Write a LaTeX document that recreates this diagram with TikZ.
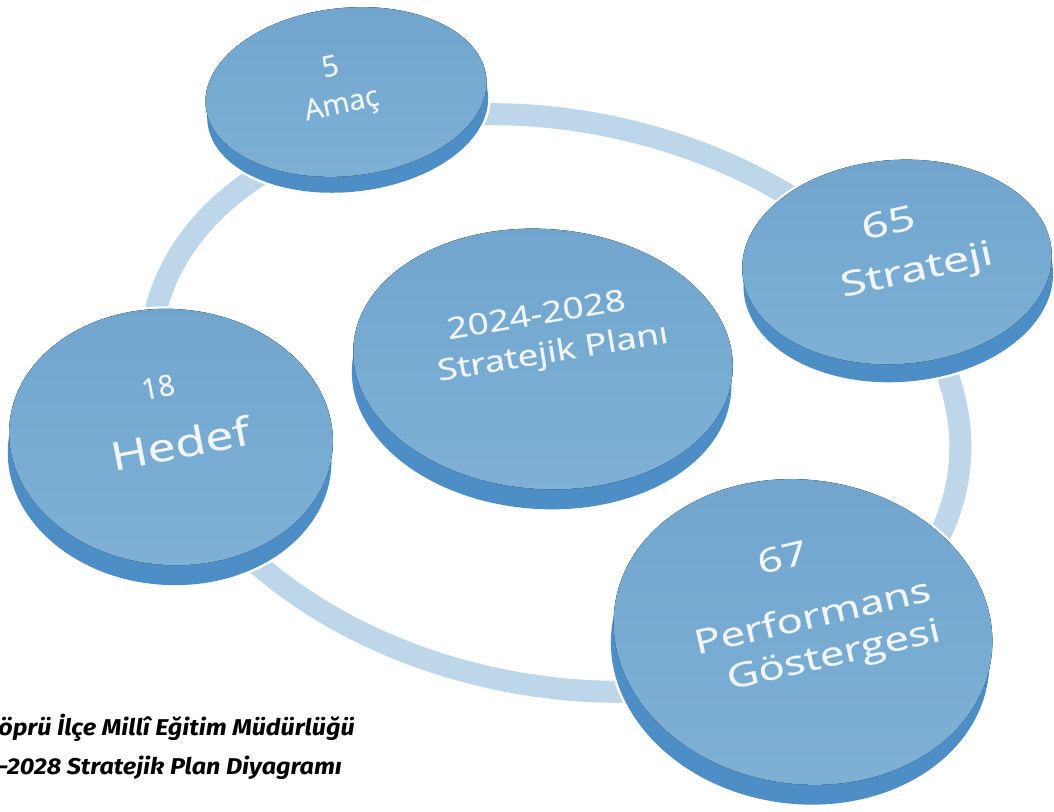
\documentclass[tikz,border=0pt]{standalone}
\usepackage{fontspec}
\setmainfont{Open Sans}[FakeBold=0.5]
\newfontfamily\capfont{Fira Sans}

\definecolor{ringblue}{RGB}{190,214,233}
\definecolor{discface}{RGB}{113,165,206}
\definecolor{discfacelt}{RGB}{127,177,214}
\definecolor{discside}{RGB}{78,142,198}
\definecolor{labeltext}{RGB}{240,246,251}

\tikzset{
  halo/.style={draw=white, line width=0.1cm},
  side/.style={fill=discside},
  face/.style={top color=discface, bottom color=discfacelt},
  lbl/.style={text=labeltext, inner sep=0pt},
  caption/.style={font=\capfont\bfseries\itshape\fontsize{13}{15}\selectfont,
    anchor=base west, inner sep=0pt, xscale=1.1},
}

\begin{document}
\begin{tikzpicture}[x=0.02cm,y=-0.02cm]
\useasboundingbox (0,0) rectangle (1054,811);

% ring behind the discs
\draw[ringblue, line width=0.44cm, rotate around={-12:(555,403)}]
  (555,403) ellipse [x radius=410, y radius=282];

% Amac disc
\begin{scope}[rotate around={6:(346,92)}]
\draw[halo] (346,108) ellipse [x radius=141, y radius=84] (346,92) ellipse [x radius=141, y radius=84];
\fill[side] (346,108) ellipse [x radius=141, y radius=84] (346,92) ellipse [x radius=141, y radius=84];
\fill[face] (346,92) ellipse [x radius=141, y radius=84];
\end{scope}

% Strateji disc
\begin{scope}[rotate around={4:(897,262)}]
\draw[halo] (897,280) ellipse [x radius=155, y radius=102] (897,262) ellipse [x radius=155, y radius=102];
\fill[side] (897,280) ellipse [x radius=155, y radius=102] (897,262) ellipse [x radius=155, y radius=102];
\fill[face] (897,262) ellipse [x radius=155, y radius=102];
\end{scope}

% centre disc
\begin{scope}[rotate around={-4:(543,359)}]
\draw[halo] (543,379) ellipse [x radius=190, y radius=130] (543,359) ellipse [x radius=190, y radius=130];
\fill[side] (543,379) ellipse [x radius=190, y radius=130] (543,359) ellipse [x radius=190, y radius=130];
\fill[face] (543,359) ellipse [x radius=190, y radius=130];
\end{scope}

% Hedef disc
\begin{scope}[rotate around={-4:(171,437)}]
\draw[halo] (171,457) ellipse [x radius=162, y radius=128] (171,437) ellipse [x radius=162, y radius=128];
\fill[side] (171,457) ellipse [x radius=162, y radius=128] (171,437) ellipse [x radius=162, y radius=128];
\fill[face] (171,437) ellipse [x radius=162, y radius=128];
\end{scope}

% Performans disc
\begin{scope}[rotate around={-8:(803,632)}]
\draw[halo] (803,652) ellipse [x radius=190, y radius=152] (803,632) ellipse [x radius=190, y radius=152];
\fill[side] (803,652) ellipse [x radius=190, y radius=152] (803,632) ellipse [x radius=190, y radius=152];
\fill[face] (803,632) ellipse [x radius=190, y radius=152];
\end{scope}

% labels
\node[lbl, font=\fontsize{16.5}{18}\selectfont, rotate=12] (amacnum) at (330,66) {5};
\node[lbl, font=\fontsize{16.5}{18}\selectfont, rotate=12] (amac) at (342,106) {Amaç};
\node[lbl, font=\fontsize{27}{30}\selectfont, rotate=12.5, yscale=.72] (stratnum) at (888,222) {65};
\node[lbl, font=\fontsize{27}{30}\selectfont, rotate=12.5, yscale=.72] (strat) at (917,272) {Strateji};
\node[lbl, font=\fontsize{21}{24}\selectfont, rotate=9.5, yscale=.8] (years) at (536,314) {2024-2028};
\node[lbl, font=\fontsize{21}{24}\selectfont, rotate=9.5, yscale=.8] (plan) at (553,354) {Stratejik Planı};
\node[lbl, font=\fontsize{16.5}{18}\selectfont, rotate=11] (hedefnum) at (158,387) {18};
\node[lbl, font=\fontsize{28.5}{31}\selectfont, rotate=11, yscale=.78] (hedef) at (180,443) {Hedef};
\node[lbl, font=\fontsize{25}{28}\selectfont, rotate=13, yscale=.76] (perfnum) at (782,557) {67};
\node[lbl, font=\fontsize{25}{28}\selectfont, rotate=13, yscale=.76] (perf) at (812,615) {Performans};
\node[lbl, font=\fontsize{25}{28}\selectfont, rotate=13, yscale=.76] (gosterge) at (834,657) {Göstergesi};

% caption, cut at the left edge
\node[caption] (capone) at (-2,735) {öprü İlçe Millî Eğitim Müdürlüğü};
\node[caption] (captwo) at (-2,774) {-2028 Stratejik Plan Diyagramı};
\end{tikzpicture}
\end{document}
